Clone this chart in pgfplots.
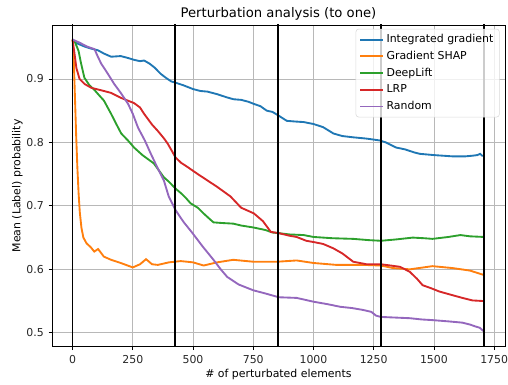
\documentclass[border=0pt]{standalone}
\usepackage{fontspec}
\setmainfont{DejaVu Sans}
\usepackage{pgfplots}
\pgfplotsset{compat=1.18}
\definecolor{tabblue}{HTML}{1F77B4}
\definecolor{taborange}{HTML}{FF7F0E}
\definecolor{tabgreen}{HTML}{2CA02C}
\definecolor{tabred}{HTML}{D62728}
\definecolor{tabpurple}{HTML}{9467BD}
\begin{document}
\begin{tikzpicture}
\begin{axis}[
  scale only axis,
  width=340pt, height=241.5pt,
  xmin=-85.5, xmax=1795, ymin=0.478, ymax=0.985,
  xtick={0,250,500,750,1000,1250,1500,1750},
  ytick={0.5,0.6,0.7,0.8,0.9},
  yticklabels={0.5,0.6,0.7,0.8,0.9},
  scaled x ticks=false,
  /pgf/number format/assume math mode=true,
  /pgf/number format/1000 sep={},
  tick align=outside, tick pos=left,
  major tick length=2.6pt,
  tick style={black, line width=0.6pt},
  ticklabel style={font=\fontsize{8.2}{10}\selectfont, text=black!85},
  grid=major,
  grid style={color=black!28, line width=0.6pt},
  axis line style={black, line width=0.6pt},
  title={Perturbation analysis (to one)},
  title style={font=\fontsize{9.9}{12}\selectfont, yshift=-6pt},
  xlabel={\# of perturbated elements},
  ylabel={Mean (Label) probability},
  label style={font=\fontsize{8.2}{10}\selectfont},
  xlabel style={yshift=2pt},
  ylabel style={yshift=-4pt},
  legend style={at={(0.988,0.988)}, anchor=north east, draw=black!15, fill=white, fill opacity=0.8, text opacity=1, rounded corners=2pt, font=\fontsize{8.2}{10}\selectfont, inner xsep=2.5pt, inner ysep=2pt, row sep=0.9pt},
  legend cell align=left,
  legend image code/.code={\draw[#1, line width=1.4pt] (0cm,0cm) -- (0.6cm,0cm);},
]
\addplot[tabblue, line width=1.4pt] coordinates {
(0,0.962) (10,0.958) (25,0.955) (50,0.951) (75,0.948) (106,0.945) (130,0.940) (160,0.935) (200,0.936) (230,0.933) (256,0.930) (280,0.928) (297,0.929) (320,0.924) (340,0.918) (366,0.908) (390,0.901) (410,0.896) (428,0.894) (460,0.890) (500,0.884) (531,0.881) (560,0.880) (600,0.876) (640,0.871) (668,0.868) (700,0.867) (730,0.864) (750,0.861) (780,0.857) (806,0.850) (830,0.848) (856,0.842) (889,0.834) (920,0.833) (960,0.832) (1000,0.829) (1040,0.824) (1083,0.814) (1120,0.810) (1165,0.808) (1220,0.806) (1276,0.803) (1300,0.800) (1342,0.792) (1380,0.789) (1420,0.784) (1441,0.782) (1500,0.780) (1577,0.778) (1630,0.778) (1659,0.779) (1680,0.780) (1692,0.782) (1700,0.779) (1708,0.779)
};
\addlegendentry{Integrated gradient}
\addplot[taborange, line width=1.4pt] coordinates {
(0,0.962) (5,0.93) (10,0.87) (15,0.81) (20,0.76) (25,0.72) (30,0.69) (37,0.665) (45,0.65) (58,0.641) (75,0.635) (90,0.628) (106,0.632) (130,0.620) (160,0.615) (200,0.610) (250,0.603) (280,0.608) (305,0.616) (330,0.608) (354,0.607) (400,0.611) (449,0.613) (500,0.611) (544,0.606) (600,0.611) (667,0.615) (750,0.612) (850,0.612) (930,0.614) (1000,0.610) (1095,0.607) (1206,0.607) (1280,0.606) (1330,0.602) (1400,0.600) (1494,0.605) (1577,0.602) (1650,0.598) (1708,0.591)
};
\addlegendentry{Gradient SHAP}
\addplot[tabgreen, line width=1.4pt] coordinates {
(0,0.962) (10,0.958) (25,0.944) (35,0.925) (49,0.902) (70,0.890) (90,0.883) (106,0.876) (130,0.866) (160,0.845) (180,0.830) (202,0.814) (230,0.803) (255,0.792) (290,0.780) (337,0.767) (360,0.755) (379,0.745) (400,0.738) (428,0.727) (450,0.720) (469,0.713) (490,0.704) (520,0.697) (544,0.688) (570,0.679) (585,0.674) (620,0.673) (667,0.672) (700,0.669) (750,0.666) (800,0.662) (830,0.658) (856,0.657) (900,0.655) (959,0.654) (1000,0.651) (1080,0.649) (1165,0.648) (1230,0.646) (1280,0.645) (1340,0.647) (1412,0.650) (1460,0.649) (1494,0.648) (1560,0.651) (1610,0.654) (1650,0.652) (1708,0.651)
};
\addlegendentry{DeepLift}
\addplot[tabred, line width=1.4pt] coordinates {
(0,0.962) (8,0.940) (16,0.917) (29,0.900) (50,0.892) (78,0.886) (120,0.882) (160,0.878) (202,0.870) (255,0.862) (280,0.855) (297,0.845) (330,0.828) (354,0.818) (380,0.806) (395,0.798) (428,0.776) (450,0.768) (478,0.761) (520,0.750) (560,0.740) (600,0.730) (655,0.715) (700,0.697) (730,0.692) (753,0.688) (790,0.676) (823,0.659) (856,0.657) (900,0.653) (930,0.651) (970,0.645) (1000,0.643) (1040,0.640) (1083,0.633) (1120,0.625) (1165,0.612) (1220,0.608) (1280,0.608) (1320,0.606) (1359,0.604) (1380,0.600) (1400,0.596) (1430,0.585) (1453,0.575) (1490,0.570) (1523,0.565) (1570,0.560) (1618,0.555) (1660,0.551) (1708,0.550)
};
\addlegendentry{LRP}
\addplot[tabpurple, line width=1.4pt] coordinates {
(0,0.962) (30,0.957) (60,0.951) (91,0.947) (105,0.935) (119,0.924) (145,0.909) (173,0.892) (200,0.878) (230,0.861) (250,0.845) (272,0.823) (300,0.803) (325,0.782) (350,0.762) (379,0.740) (399,0.715) (428,0.693) (460,0.675) (498,0.657) (540,0.636) (585,0.615) (615,0.600) (642,0.588) (690,0.576) (750,0.567) (800,0.562) (856,0.556) (930,0.555) (1000,0.549) (1060,0.545) (1111,0.541) (1160,0.539) (1206,0.536) (1240,0.533) (1260,0.527) (1280,0.525) (1340,0.524) (1400,0.523) (1450,0.521) (1494,0.520) (1560,0.518) (1618,0.516) (1650,0.513) (1672,0.510) (1690,0.508) (1708,0.502)
};
\addlegendentry{Random}
\addplot[black, line width=1.4pt, forget plot] coordinates {(0,0.4) (0,1.0)};
\addplot[black, line width=1.4pt, forget plot] coordinates {(427,0.4) (427,1.0)};
\addplot[black, line width=1.4pt, forget plot] coordinates {(854,0.4) (854,1.0)};
\addplot[black, line width=1.4pt, forget plot] coordinates {(1281,0.4) (1281,1.0)};
\addplot[black, line width=1.4pt, forget plot] coordinates {(1708,0.4) (1708,1.0)};
\end{axis}
\pgfresetboundingbox
\path ([shift={(-39pt,-28.5pt)}]current axis.south west) rectangle ([shift={(2.25pt,18.75pt)}]current axis.north east);
\end{tikzpicture}
\end{document}
